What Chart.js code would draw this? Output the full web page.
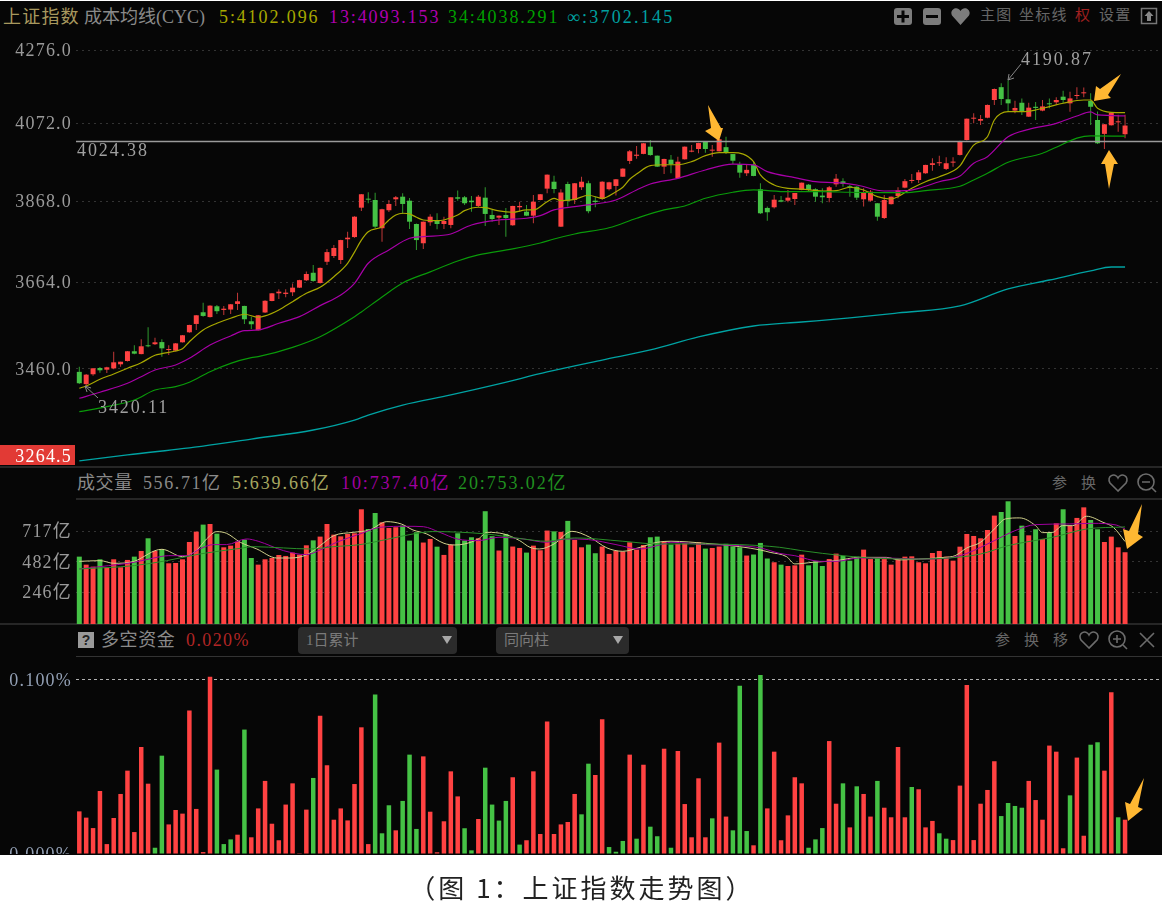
<!DOCTYPE html>
<html><head><meta charset="utf-8">
<style>
html,body{margin:0;padding:0;background:#fff;}
#page{position:relative;width:1164px;height:908px;overflow:hidden;background:#fff;font-family:"Liberation Serif","Noto Sans CJK SC",serif;}
#panel{position:absolute;left:0;top:1px;width:1162px;height:854px;background:#060606;}
canvas{position:absolute;left:0;}
.t{position:absolute;white-space:nowrap;font-size:18px;line-height:20px;letter-spacing:1.9px;color:#8a8a8a;}
.hr{position:absolute;height:2px;background:#262626;}
.drop{position:absolute;top:627px;height:27px;background:#2b2b2b;border-radius:4px;color:#7a7a7a;font-size:15px;line-height:27px;}
#caption{position:absolute;left:0;width:1164px;top:869px;text-align:center;font:26px "Noto Sans CJK SC",sans-serif;letter-spacing:3px;color:#222;line-height:36px;}
svg{position:absolute;left:0;top:0;}
</style></head><body>
<div id="page">
<div id="panel"></div>
<div class="hr" style="left:0;top:466px;width:1162px"></div>
<div class="hr" style="left:76px;top:498px;width:1086px"></div>
<div class="hr" style="left:0;top:623px;width:1162px"></div>
<div class="hr" style="left:76px;top:656px;width:1086px;height:1px;background:#333"></div>
<div style="position:absolute;left:0;top:445px;width:75px;height:20px;background:#e23a35"></div>
<canvas id="cPrice" width="1162" height="430" style="top:37px"></canvas>
<canvas id="cVol" width="1162" height="124" style="top:500px"></canvas>
<canvas id="cFlow" width="1162" height="197" style="top:657px"></canvas>

<div class="t" style="left:3px;top:7px;color:#a8985e;letter-spacing:1.2px">上证指数</div>
<div class="t" style="left:84px;top:7px;letter-spacing:0">成本均线(CYC)</div>
<div class="t" style="left:219px;top:7px;color:#a8a800">5:4102.096</div>
<div class="t" style="left:329px;top:7px;color:#b000b0">13:4093.153</div>
<div class="t" style="left:448px;top:7px;color:#00a000">34:4038.291</div>
<div class="t" style="left:567px;top:7px;color:#00a0a0;letter-spacing:2.2px">∞:3702.145</div>
<div class="t" style="left:980px;top:5px;color:#666;font-size:15px;letter-spacing:1.2px">主图</div>
<div class="t" style="left:1019px;top:5px;color:#666;font-size:15px;letter-spacing:1.2px">坐标线</div>
<div class="t" style="left:1075px;top:5px;color:#a02020;font-size:15px">权</div>
<div class="t" style="left:1099px;top:5px;color:#666;font-size:15px;letter-spacing:1.2px">设置</div>

<div class="t" style="left:77px;top:473px;letter-spacing:.6px">成交量</div>
<div class="t" style="left:143px;top:473px;letter-spacing:1.6px">556.71亿</div>
<div class="t" style="left:232px;top:473px;color:#a8a860">5:639.66亿</div>
<div class="t" style="left:341px;top:473px;color:#a000a0">10:737.40亿</div>
<div class="t" style="left:458px;top:473px;color:#209020">20:753.02亿</div>
<div class="t" style="left:1052px;top:473px;color:#666;font-size:15px">参</div>
<div class="t" style="left:1081px;top:473px;color:#666;font-size:15px">换</div>

<div class="t" style="left:101px;top:630px;letter-spacing:.6px">多空资金</div>
<div class="t" style="left:186px;top:630px;color:#b02525;letter-spacing:1.4px">0.020%</div>
<div class="drop" style="left:298px;width:159px"><span style="margin-left:8px">1日累计</span></div>
<div class="drop" style="left:496px;width:133px"><span style="margin-left:8px">同向柱</span></div>
<div class="t" style="left:995px;top:630px;color:#666;font-size:15px">参</div>
<div class="t" style="left:1024px;top:630px;color:#666;font-size:15px">换</div>
<div class="t" style="left:1053px;top:630px;color:#666;font-size:15px">移</div>

<div class="t" style="left:77px;top:140px;color:#a0a0a0">4024.38</div>
<div class="t" style="left:1021px;top:49px;color:#a0a0a0">4190.87</div>
<div class="t" style="left:98px;top:397px;color:#a0a0a0">3420.11</div>

<svg width="1164" height="908" viewBox="0 0 1164 908">
  <g fill="#ffb732">
    <polygon points="708,105 721,128 723,128 719,141 705,131 711,128"/>
    <polygon points="1121,74 1108,95 1111,98 1094,101 1096,86 1100,89"/>
    <polygon points="1109,150 1118,164 1114,164 1109,189 1105,164 1101,164"/>
    <polygon points="1142,504 1138,534 1143,537 1127,549 1123,529 1129,531"/>
    <polygon points="1144,778 1138,807 1143,809 1128,821 1125,802 1130,804"/>
  </g>
  <g stroke="#888" stroke-width="1" fill="none">
    <path d="M1021,64 L1008,80 M1008,80 L1014,78 M1008,80 L1009,74"/>
    <path d="M98,398 L85,386 M85,386 L91,388 M85,386 L87,392"/>
  </g>
  <!-- toolbar icons -->
  <g fill="#7c7c7c">
    <rect x="894" y="8" width="18" height="17" rx="3"/>
    <rect x="923" y="8" width="18" height="17" rx="3"/>
    <path d="M960.5,25 L952,15.5 C949,10 957,5 960.5,11 C964,5 972,10 969,15.5 Z"/>
  </g>
  <g fill="#060606">
    <rect x="897" y="15" width="12" height="3"/><rect x="901.5" y="10.5" width="3" height="12"/>
    <rect x="926" y="15" width="12" height="3"/>
  </g>
  <g stroke="#777" fill="none" stroke-width="1.5">
    <rect x="1141.5" y="8.5" width="15" height="15"/>
  </g>
  <path d="M1149,11 L1153.5,16 L1151,16 L1151,21 L1147,21 L1147,16 L1144.5,16 Z" fill="#888"/>
  <g stroke="#6c6c6c" fill="none" stroke-width="1.6">
    <path id="h1" d="M1118,491 L1110,483 C1106,476 1115,472 1118,478 C1121,472 1130,476 1126,483 Z"/>
    <circle cx="1146" cy="482" r="8"/><path d="M1142,482 h8 M1152,488 l4,4"/>
    <path d="M1089,648 L1081,640 C1077,633 1086,629 1089,635 C1092,629 1101,633 1097,640 Z"/>
    <circle cx="1117" cy="639" r="8"/><path d="M1113,639 h8 M1117,635 v8 M1123,645 l4,4"/>
    <path d="M1140,633 L1154,647 M1154,633 L1140,647"/>
  </g>
  <rect x="78" y="632" width="16" height="16" fill="#9a9a9a"/>
  <text x="86" y="645" text-anchor="middle" font-family="Liberation Sans" font-weight="bold" font-size="14" fill="#222">?</text>
  <path d="M442,636 h10 l-5,8 Z M613,636 h10 l-5,8 Z" fill="#a8a8a8"/>
</svg>
<div id="caption">（图 1：上证指数走势图）</div>
</div>

<script src="https://cdn.jsdelivr.net/npm/chart.js@4"></script>
<script>
const open_ = [3453,3425,3447.5,3461.9,3458,3461,3470.4,3478,3500.6,3494,3514.5,3517,3522,3503.6,3502,3521.5,3545,3564.7,3592.5,3581,
3606.8,3598,3599,3612.4,3607.6,3571,3549.8,3592,3619.5,3638,3636.5,3640.5,3651.7,3669.6,3688,3663,3715,3729.3,3719.4,3771,
3776.5,3851,3873.3,3870.7,3798.7,3844.4,3872.5,3879.2,3868.9,3809.5,3761,3813.8,3817.8,3809.5,3807,3877.7,3877.7,3869,3855.4,3876.7,
3832.4,3825.5,3832.4,3806.2,3852,3840.8,3830.6,3870.7,3900,3918,3802.7,3912,3870.7,3903.6,3914,3869,3873.3,3898.5,3907,3931,
3972.4,3986,3991,4010.3,3986.4,3957.4,3975.8,3927,3976.8,3997,4004,4023.6,3999.7,3998,4009,3990.7,3963.8,3940,3962,3898.5,
3850.3,3852,3870,3869,3873.3,3896.6,3910.3,3898.5,3882,3875.9,3911.2,3919,3905,3905,3872.5,3869,3862.3,3824.7,3860,3881,
3902.6,3920,3922.5,3940,3961.9,3966.4,3951.4,3968,3988.3,4028.1,4085.5,4080,4088.2,4136.6,4172,4138.5,4107.5,4129,4091,4118,
4107.5,4126.4,4130.3,4145.7,4127.4,4147.6,4155,4134,4082,4044.5,4067.7,4075.7,4043.6];
const high_ = [3465,3448,3461.5,3464,3465,3499.6,3476.5,3501,3514.5,3528.5,3556.9,3532,3528.5,3514.5,3520,3538.5,3563,3586,3615.4,3609,
3610,3607.5,3612,3639.6,3608,3582,3586,3621,3639,3647.8,3647.8,3661.6,3671,3691,3707,3701,3747,3756.8,3770,3790,
3829,3886,3890.6,3889.6,3848,3870.7,3881,3888,3875.9,3811,3816,3834,3836.7,3828,3878,3895,3881,3881,3883.7,3903.6,
3845.3,3831,3850.3,3856,3866.4,3858,3883.7,3886,3937,3933.8,3898.5,3918,3914.5,3931,3920.7,3879.2,3919,3918,3925,3953,
4001.5,4012,4020,4028,3987,3978,3988,3983.4,4011,4014.6,4021,4024.4,4014.6,4030.5,4036.8,3991,3970.5,3962,3970.5,3914,
3853.7,3883.7,3881,3896.6,3889,3916,3912,3901,3901,3907,3937.9,3926.9,3909.6,3906,3900.8,3896.6,3863,3883.7,3880,3903.6,
3925,3938.3,3948.6,3962.5,3979.4,3986.4,3982,3982,4026,4086,4100,4095.7,4124,4168,4183,4190.87,4134.7,4141,4129,4131,
4136.6,4141,4144,4162,4159,4172,4171,4155,4105,4071,4103,4096,4096];
const low_ = [3425,3420.11,3444.3,3451,3450.5,3459,3465,3477,3493.7,3493.7,3510,3515,3488,3492,3500,3521,3544,3550.5,3582,3580,
3588.4,3586,3588.4,3598,3564.7,3553,3549,3591,3619,3624.3,3628.4,3631.6,3651,3668,3666,3662,3707,3724.4,3709.6,3749.3,
3775,3842.6,3862.3,3799.4,3765,3840,3855.4,3835,3797,3744.3,3746.8,3805.2,3796.2,3796.7,3798.7,3869,3858,3840.8,3852.9,3804.5,
3815.3,3807,3777.5,3805,3840.8,3830,3811.3,3870,3888,3888,3802,3853.7,3860.5,3896.6,3836.7,3852,3870.7,3895.3,3882,3930,
3964.5,3978,3990,3986.4,3956.5,3938,3940,3926,3976,3995.3,3992.7,3994.3,3983.7,3997.5,3990.7,3964.5,3928.5,3933,3932.5,3835,
3817.8,3848.6,3864.6,3864.6,3858,3896,3892.2,3866.4,3862.3,3865,3905,3905,3879.2,3870.7,3853.7,3866.4,3817.8,3822,3859,3875,
3901,3914,3914.7,3939,3946.5,3959.3,3948.7,3957.4,3987,4027,4073,4068.5,4087,4122.9,4122.9,4104.6,4100.6,4095.7,4090,4082,
4106,4113.8,4123,4127.4,4104.6,4138.5,4144,4068.5,4017.5,4004,4067,4050.5,4032.7];
const close_ = [3427,3446.6,3461.2,3456.6,3463.5,3475,3476.4,3500.6,3495,3512.2,3512.2,3521.5,3507.4,3505,3519,3538,3562.3,3585.3,3583.7,3608.3,
3595,3601,3611.6,3618.8,3575.8,3564,3585.3,3620,3638,3642,3639.6,3651.7,3670,3685,3668,3700,3739,3749.3,3769,3775,
3828,3885.5,3871.5,3802.7,3847,3860.5,3877.7,3860.5,3815.3,3769,3815.3,3828,3809.5,3817,3877.7,3874,3862.3,3865,3879.2,3835,
3822,3830.6,3824.7,3855.4,3855.4,3830.6,3866.4,3885.5,3936.4,3899,3890,3869,3914,3918,3841.9,3865.5,3918,3916.5,3924.3,3952.2,
3998,3989,4019.3,3988,3957.4,3977.7,3963.8,3970.5,4010.3,3999.7,4020,4004,4001.5,4030,3994.3,3973,3941.7,3949,3933,3836.7,
3839.3,3871.5,3866.4,3876.7,3888.7,3915.5,3896.6,3879.2,3877.7,3903.6,3925.9,3912,3903.6,3876.7,3890.6,3892.2,3828,3870.7,3879.2,3895.8,
3919.4,3922.5,3942.5,3961.9,3966.4,3969,3966.4,3970.5,4025.4,4085.5,4088.2,4084.7,4123,4167,4139.4,4127.4,4114.8,4104.6,4115.6,4114.8,
4119,4124.8,4136.6,4136.6,4141,4150.4,4157,4118,4019.3,4070.4,4102,4077.3,4067];

const ma5Idx = [0,1,3,5,7,9,11,12,14,15,16,18,20,22,24,26,27,29,31,33,35,37,39,40,41,42,44,45,46,47,48,49,50,52,53,55,56,58,59,61,63,65,66,68,69,70,72,74,76,78,79,80,81,83,85,87,89,91,93,95,98,99,101,103,105,108,110,112,114,116,118,119,121,123,125,127,128,129,130,132,133,135,137,139,141,143,146,147,148,150,152];
const ma5Val = [3415.6,3420.8,3436,3448.2,3461.2,3474.1,3491.3,3495,3501.3,3506.6,3522.9,3550.5,3566.3,3578.2,3587.7,3580.6,3583.7,3598,3617.8,3638.1,3652.6,3678.4,3711.3,3739,3769,3790,3802.7,3819.6,3832.4,3836.7,3835,3826.5,3819.6,3817.8,3819.6,3832.4,3843.4,3852.1,3851,3842.6,3839.3,3845.2,3845.2,3866.4,3875.1,3868.9,3872.5,3882.9,3875.1,3892.2,3903.6,3924.3,3937.9,3960,3962.4,3962.4,3970.5,3986.4,3994.3,3994.3,3970.5,3935.8,3909.5,3900.9,3899,3893.9,3894.7,3903.6,3896.6,3879.2,3873.3,3879.2,3900.9,3918,3931,3946,3959.2,3988.3,4014.6,4036.8,4082,4104.6,4104.6,4109.2,4118.3,4127.6,4136.6,4136.6,4113.8,4102.8,4102.1];
const ma13Idx = [0,3,7,9,11,14,16,19,22,24,26,29,32,35,38,40,42,45,48,50,54,57,61,65,67,69,72,75,78,81,83,87,91,95,98,100,104,107,110,113,117,120,122,125,128,130,132,135,138,142,145,147,148,152];
const ma13Val = [3392.9,3406.5,3427,3442,3457.4,3468.8,3484.3,3515.1,3536.3,3548.8,3550.5,3566.3,3582,3608.3,3633.9,3662.2,3711.3,3744.3,3773.5,3777.5,3784.3,3807,3819.6,3824,3830.6,3845.2,3853.7,3860.5,3870.7,3896.6,3912,3926.9,3948.7,3963.8,3961.9,3944.2,3928.5,3918,3915.5,3909.5,3893.9,3894.7,3900.9,3918,3932.8,3966.4,3983.7,4036.8,4056.8,4073,4092.9,4103.8,4095.7,4093.2];
const ma34Idx = [0,4,8,11,14,16,19,22,25,26,31,35,40,41,44,47,51,55,58,63,67,69,72,77,81,85,88,91,95,98,103,108,112,117,120,123,128,130,132,135,140,142,145,147,152];
const ma34Val = [3362.8,3374,3389,3411.7,3419.2,3429.2,3453.4,3472.6,3485.7,3488,3509.8,3534.7,3582,3593.2,3629.2,3663,3690.2,3717,3731.9,3746.8,3761.7,3771.7,3784.3,3800,3824,3845.2,3855.4,3875.1,3890.6,3896.6,3892.2,3892.2,3890.6,3889.6,3889.6,3895,3906.1,3922.5,3940,3969,3992.8,4008.8,4033,4039.2,4038.3];
const costIdx = [0,7,18,25,34,40,42,47,54,61,68,76,83,90,98,105,112,119,128,135,141,147,150,152];
const costVal = [3254.5,3267.5,3287,3302.3,3322.2,3344.3,3355.4,3377.8,3400.4,3425.3,3452.8,3480.3,3503.6,3534,3559.8,3569.3,3579,3590.9,3607.5,3648.5,3670.3,3692.4,3702.1,3702.1];
const refPrice = 4024.38;
const priceTicks = [4276,4072,3868,3664,3460,3264.5];

const volume = [522.6,460.5,445,502,440,502,440,497,522.6,566.6,665,566.6,579.5,471,473.4,502,636.4,716.6,771,776,
701,595,608,639,654.5,512,460.5,502,512,535.5,528,553.6,538,610.5,649,678,776,693,680,698.5,
703.6,890,737,861,789,745,751,764,647,712,632,660,600,536,616,704,647,673,665,875,
681,570,699,601,590,554,608,572,725,719,715,800,652,595,616,549,601,544,567,562,
634,577,613,673,678,642,616,622,626,595,634,585,590,601,622,601,595,531,539,629,
508,479,460.5,450,455,538,455,486,450,504,546,528,491.5,522.6,577,504,512,504,460.5,504,
522.6,525,479,471,551,566.6,522.6,491.5,600,698.5,683,665,729.5,841,869,952,683,763,688,735,
660,709,781,890,761,823,905,807,735,636,678,595,556.71];
const volTicks = [717,482,246];
const vm5Idx = [0,3,5,8,9,11,12,15,17,18.5,20,21.4,23.4,25.8,28.7,30.6,33,35,37,39.8,42.2,44.7,46.8,48.5,50.5,53,54.6,56,58,59.3,61.7,64,65.5,66.9,69,71.6,74.2,76.7,79,81.5,84,86,91,96,99,100.4,102.8,104,106.7,110,113.4,117.3,119.2,122,125.8,127.3,129,131,133,134.6,136.7,139,140,141.5,142.9,144.4,146.4,148.8,150.3,152];
const vm5Val = [486,491.5,471,486,512,569,579.5,522.6,569,660,716.6,703.6,634,582,512,512,535.5,608,685.6,711,729.5,794,776,729.5,698.5,626,613,621,660,711,698.5,647,595,582,621,719,673,590,564,595,634,642,626,600,574,556,522.6,466,479,491.5,517,517,497,504,517,530,590,634,737,815,823,763,709,711,763,763,836,789,750,640];
const vm10Idx = [0,3,8,10.8,13,15.6,17.5,19.5,21.4,24.3,26,29.7,33,35,37.4,40.8,43.7,47.6,50,52.4,54.9,58,61,64.5,67.9,70.8,74,78,81.5,84,86,91,96,99,101.8,104,107.7,110,113.4,117.3,122,126.4,129,133,136,139,143.9,147.3,150.7,152];
const vm10Val = [427,445,479,512,530,530,582,616,616,660,642,569,538,574,634,698.5,750,758,755,711,660,647,673,660,634,660,655,616,582,608,634,616,608,590,548,530,486,486,512,512,504,512,548,647,724,771,776,781,768,737.4];
const vm20Idx = [0,8,12.7,17.5,23.4,25.3,29.7,33.5,37,40.8,45,48.5,51.4,59,64.5,67.9,72,79,84,88.7,96,101.8,105,111,115,122,126.4,131,135,141.5,146.4,152];
const vm20Val = [427,453,491.5,543,587,600,590,582,600,616,660,698.5,717,699,660,642,668,642,621,621,616,595,569,530,512,504,512,543,608,673,737,753];

const flow = [.0245,.0209,.0149,.0362,.0057,.0207,.0345,.0479,.0126,.0615,.0404,.0036,.0565,.0170,.0253,.0232,.0824,.0259,.0011,.1019,
.0485,.0057,.0084,.0111,.0715,.0096,.0262,.0420,.0174,.0079,.0284,.0406,.0001,.0255,.0437,.0795,.0510,.0197,.0262,.0193,
.0402,.0728,.0057,.0916,.0119,.0280,.0136,.0305,.0571,.0144,.0561,.0243,.0010,.0188,.0475,.0331,.0148,.0021,.0201,.0496,
.0284,.0192,.0305,.0441,.0054,.0079,.0475,.0115,.0762,.0115,.0170,.0184,.0345,.0228,.0519,.0454,.0774,.0040,.0013,.0075,
.0571,.0088,.0513,.0157,.0102,.0605,.0036,.0592,.0287,.0096,.0435,.0096,.0205,.0640,.0215,.0136,.0967,.0132,.0050,.1029,
.0262,.0588,.0079,.0222,.0441,.0406,.0036,.0084,.0149,.0649,.0289,.0406,.0153,.0389,.0345,.0215,.0420,.0266,.0211,.0615,
.0211,.0385,.0372,.0153,.0190,.0119,.0088,.0080,.0393,.0971,.0080,.0289,.0368,.0533,.0218,.0293,.0276,.0266,.0420,.0310,
.0197,.0623,.0588,.0033,.0337,.0554,.0105,.0628,.0642,.0479,.0929,.0211,.0197];
const flowGreen = [11,12,20,21,22,24,34,43,44,45,47,48,49,56,57,59,60,61,62,64,73,74,77,78,79,81,83,84,86,92,95,96,97,99,106,107,108,111,113,116,121,125,126,134,135,136,137,144,147,148,151];
const flowTicks = [0.1,0];

const RED='#ff4242', GREEN='#45c245', RED_W='#c23838', GREEN_W='#2f9a2f';
const xScale = {type:'linear',display:false,min:-0.48,max:157.37,offset:false};
const spacing = {id:'spacing',beforeDraw(c){c.ctx.letterSpacing='1.2px';}};
function yFit(s){s.width=76;s.paddingTop=0;s.paddingBottom=0;s.paddingLeft=0;s.paddingRight=0;}
function pts(idx,val){return idx.map((x,k)=>({x:x,y:val[k]}));}
function line(idx,val,color,width){return {type:'line',data:pts(idx,val),borderColor:color,borderWidth:width,pointRadius:0,cubicInterpolationMode:'monotone',fill:false,order:0,clip:true};}
function barData(vals){return vals.map((v,i)=>({x:i,y:v}));}
const tickFont={family:'"Liberation Serif","Noto Sans CJK SC",serif',size:18};
const base={responsive:false,maintainAspectRatio:false,animation:false,events:[],
  layout:{padding:0},plugins:{legend:{display:false},tooltip:{enabled:false}}};

const isUp=close_.map((c,i)=>c>=open_[i]);
new Chart(document.getElementById('cPrice'),{type:'bar',plugins:[spacing],data:{datasets:[
  {label:'hl',data:open_.map((o,i)=>({x:i,y:[low_[i],high_[i]]})),barThickness:1,grouped:false,inflateAmount:0,
    backgroundColor:isUp.map(u=>u?RED_W:GREEN_W),order:3},
  {label:'oc',data:open_.map((o,i)=>({x:i,y:[o,close_[i]]})),barThickness:5,grouped:false,inflateAmount:0,minBarLength:1,
    backgroundColor:isUp.map(u=>u?RED:GREEN),order:2},
  line(costIdx,costVal,'#00a3a3',1.3),
  line(ma34Idx,ma34Val,'#0a9a0a',1.2),
  line(ma13Idx,ma13Val,'#a800a8',1.2),
  line(ma5Idx,ma5Val,'#a8a800',1.2),
  {type:'line',data:[{x:-0.48,y:refPrice},{x:157.37,y:refPrice}],borderColor:'#9a9a9a',borderWidth:1.5,pointRadius:0,order:1}
]},options:{...base,scales:{x:xScale,
  y:{type:'logarithmic',min:3241.5,max:4313.4,afterFit:yFit,
    afterBuildTicks(s){s.ticks=priceTicks.map(v=>({value:v}));},
    grid:{drawTicks:false,tickLength:0,color:c=>c.tick&&c.tick.value===3264.5?'transparent':'#333'},
    border:{display:false,dash:[2,4]},
    ticks:{autoSkip:false,padding:4,labelOffset:1,font:tickFont,callback:v=>v.toFixed(1),
      color:c=>c.tick&&c.tick.value===3264.5?'#ffffff':'#9a9a9a'}}}}});

new Chart(document.getElementById('cVol'),{type:'bar',plugins:[spacing],data:{datasets:[
  {data:barData(volume),barThickness:5,grouped:false,inflateAmount:0,backgroundColor:isUp.map(u=>u?RED:GREEN),order:2},
  line(vm20Idx,vm20Val,'#2a8f2a',1),
  line(vm10Idx,vm10Val,'#a000a0',1),
  line(vm5Idx,vm5Val,'#d2d28c',1)
]},options:{...base,scales:{x:xScale,
  y:{type:'linear',min:0,max:962,afterFit:yFit,
    afterBuildTicks(s){s.ticks=volTicks.map(v=>({value:v}));},
    grid:{drawTicks:false,tickLength:0,color:'#333'},border:{display:false,dash:[2,4]},
    ticks:{autoSkip:false,padding:4,labelOffset:1,font:tickFont,color:'#9a9a9a',callback:v=>v+'亿'}}}}});

new Chart(document.getElementById('cFlow'),{type:'bar',plugins:[spacing],data:{datasets:[
  {data:barData(flow),barThickness:4.5,grouped:false,inflateAmount:0,
   backgroundColor:flow.map((v,i)=>flowGreen.includes(i)?GREEN:RED)}
]},options:{...base,scales:{x:xScale,
  y:{type:'linear',min:0,max:0.1132,afterFit:yFit,
    afterBuildTicks(s){s.ticks=flowTicks.map(v=>({value:v}));},
    grid:{drawTicks:false,tickLength:0,color:c=>c.tick&&c.tick.value===0?'#333':'#b0b0b0'},border:{display:false,dash:[3,3]},
    ticks:{autoSkip:false,padding:4,labelOffset:1,font:tickFont,color:'#93a0b5',callback:v=>v.toFixed(3)+'%'}}}}});
</script>
</body></html>
